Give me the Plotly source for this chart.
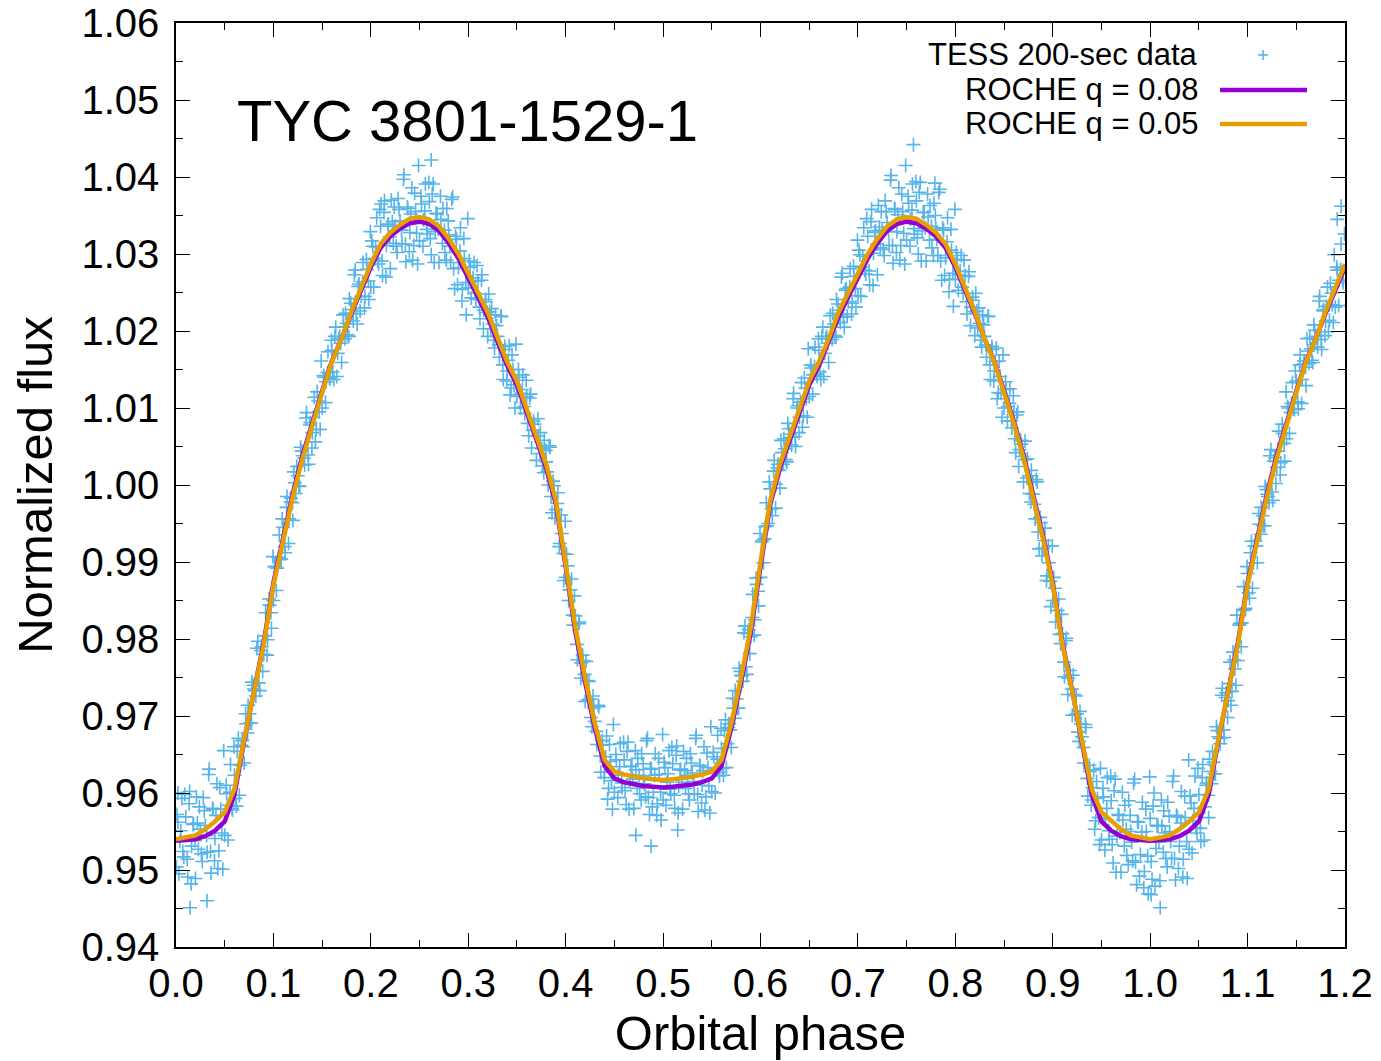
import plotly.graph_objects as go

# ---------------- model curves (phase grid) ----------------
model_phase = [
    0.00, 0.01, 0.02, 0.03, 0.04, 0.05, 0.06, 0.07, 0.08, 0.09,
    0.10, 0.11, 0.12, 0.13, 0.14, 0.15, 0.16, 0.17, 0.18, 0.19,
    0.20, 0.21, 0.22, 0.23, 0.24, 0.25, 0.26, 0.27, 0.28, 0.29,
    0.30, 0.31, 0.32, 0.33, 0.34, 0.35, 0.36, 0.37, 0.38, 0.39,
    0.40, 0.41, 0.42, 0.43, 0.44, 0.45, 0.46, 0.47, 0.48, 0.49,
    0.50, 0.51, 0.52, 0.53, 0.54, 0.55, 0.56, 0.57, 0.58, 0.59,
    0.60, 0.61, 0.62, 0.63, 0.64, 0.65, 0.66, 0.67, 0.68, 0.69,
    0.70, 0.71, 0.72, 0.73, 0.74, 0.75, 0.76, 0.77, 0.78, 0.79,
    0.80, 0.81, 0.82, 0.83, 0.84, 0.85, 0.86, 0.87, 0.88, 0.89,
    0.90, 0.91, 0.92, 0.93, 0.94, 0.95, 0.96, 0.97, 0.98, 0.99,
    1.00, 1.01, 1.02, 1.03, 1.04, 1.05, 1.06, 1.07, 1.08, 1.09,
    1.10, 1.11, 1.12, 1.13, 1.14, 1.15, 1.16, 1.17, 1.18, 1.19,
    1.20,
]

roche_q008 = [
    0.9538, 0.9539, 0.9540, 0.9544, 0.9551, 0.9563, 0.9598, 0.9668, 0.9733, 0.9795,
    0.9873, 0.9934, 0.9989, 1.0039, 1.0083, 1.0122, 1.0161, 1.0190, 1.0223, 1.0254,
    1.0283, 1.0308, 1.0323, 1.0333, 1.0340, 1.0342, 1.0339, 1.0330, 1.0314, 1.0294,
    1.0270, 1.0244, 1.0218, 1.0185, 1.0155, 1.0130, 1.0096, 1.0059, 1.0022, 0.9975,
    0.9894, 0.9809, 0.9744, 0.9684, 0.9635, 0.9619, 0.9614, 0.9611, 0.9609, 0.9608,
    0.9607, 0.9608, 0.9609, 0.9611, 0.9614, 0.9619, 0.9635, 0.9684, 0.9744, 0.9809,
    0.9894, 0.9975, 1.0022, 1.0059, 1.0096, 1.0130, 1.0155, 1.0185, 1.0218, 1.0244,
    1.0270, 1.0294, 1.0314, 1.0330, 1.0339, 1.0342, 1.0340, 1.0333, 1.0323, 1.0308,
    1.0283, 1.0254, 1.0223, 1.0190, 1.0161, 1.0122, 1.0083, 1.0039, 0.9989, 0.9934,
    0.9873, 0.9795, 0.9733, 0.9668, 0.9598, 0.9563, 0.9551, 0.9544, 0.9540, 0.9539,
    0.9538, 0.9539, 0.9540, 0.9544, 0.9551, 0.9563, 0.9598, 0.9668, 0.9733, 0.9795,
    0.9873, 0.9934, 0.9989, 1.0039, 1.0083, 1.0122, 1.0161, 1.0190, 1.0223, 1.0254,
    1.0283,
]

roche_q005 = [
    0.9540, 0.9542, 0.9545, 0.9553, 0.9563, 0.9575, 0.9605, 0.9670, 0.9732, 0.9792,
    0.9870, 0.9930, 0.9985, 1.0035, 1.0080, 1.0120, 1.0160, 1.0190, 1.0225, 1.0257,
    1.0287, 1.0313, 1.0328, 1.0338, 1.0346, 1.0348, 1.0345, 1.0336, 1.0320, 1.0300,
    1.0276, 1.0250, 1.0224, 1.0190, 1.0160, 1.0135, 1.0100, 1.0063, 1.0027, 0.9980,
    0.9900, 0.9815, 0.9750, 0.9690, 0.9643, 0.9628, 0.9624, 0.9621, 0.9619, 0.9618,
    0.9617, 0.9618, 0.9619, 0.9621, 0.9624, 0.9628, 0.9643, 0.9690, 0.9750, 0.9815,
    0.9900, 0.9980, 1.0027, 1.0063, 1.0100, 1.0135, 1.0160, 1.0190, 1.0224, 1.0250,
    1.0276, 1.0300, 1.0320, 1.0336, 1.0345, 1.0348, 1.0346, 1.0338, 1.0328, 1.0313,
    1.0287, 1.0257, 1.0225, 1.0190, 1.0160, 1.0120, 1.0080, 1.0035, 0.9985, 0.9930,
    0.9870, 0.9792, 0.9732, 0.9670, 0.9605, 0.9575, 0.9563, 0.9553, 0.9545, 0.9542,
    0.9540, 0.9542, 0.9545, 0.9553, 0.9563, 0.9575, 0.9605, 0.9670, 0.9732, 0.9792,
    0.9870, 0.9930, 0.9985, 1.0035, 1.0080, 1.0120, 1.0160, 1.0190, 1.0225, 1.0257,
    1.0287,
]

# ---------------- TESS 200-sec data ----------------
tess_phase_a = [
    0.001, 0.003, 0.005, 0.007, 0.009,
    0.0115, 0.0135, 0.0155, 0.0175, 0.0195,
    0.021, 0.023, 0.025, 0.027, 0.029,
    0.0315, 0.0335, 0.0355, 0.0375, 0.0395,
    0.041, 0.043, 0.045, 0.047, 0.049,
    0.0515, 0.0535, 0.0555, 0.0575, 0.0595,
    0.061, 0.063, 0.065, 0.067, 0.069,
    0.0715, 0.0735, 0.0755, 0.0775, 0.0795,
    0.081, 0.083, 0.085, 0.087, 0.089,
    0.0915, 0.0935, 0.0955, 0.0975, 0.0995,
    0.101, 0.103, 0.105, 0.107, 0.109,
    0.1115, 0.1135, 0.1155, 0.1175, 0.1195,
    0.121, 0.123, 0.125, 0.127, 0.129,
    0.1315, 0.1335, 0.1355, 0.1375, 0.1395,
    0.141, 0.143, 0.145, 0.147, 0.149,
    0.1515, 0.1535, 0.1555, 0.1575, 0.1595,
    0.161, 0.163, 0.165, 0.167, 0.169,
    0.1715, 0.1735, 0.1755, 0.1775, 0.1795,
    0.181, 0.183, 0.185, 0.187, 0.189,
    0.1915, 0.1935, 0.1955, 0.1975, 0.1995,
    0.201, 0.203, 0.205, 0.207, 0.209,
    0.2115, 0.2135, 0.2155, 0.2175, 0.2195,
    0.221, 0.223, 0.225, 0.227, 0.229,
    0.2315, 0.2335, 0.2355, 0.2375, 0.2395,
    0.241, 0.243, 0.245, 0.247, 0.249,
    0.2515, 0.2535, 0.2555, 0.2575, 0.2595,
    0.261, 0.263, 0.265, 0.267, 0.269,
    0.2715, 0.2735, 0.2755, 0.2775, 0.2795,
    0.281, 0.283, 0.285, 0.287, 0.289,
    0.2915, 0.2935, 0.2955, 0.2975, 0.2995,
    0.301, 0.303, 0.305, 0.307, 0.309,
    0.3115, 0.3135, 0.3155, 0.3175, 0.3195,
    0.321, 0.323, 0.325, 0.327, 0.329,
    0.3315, 0.3335, 0.3355, 0.3375, 0.3395,
    0.341, 0.343, 0.345, 0.347, 0.349,
    0.3515, 0.3535, 0.3555, 0.3575, 0.3595,
    0.361, 0.363, 0.365, 0.367, 0.369,
    0.3715, 0.3735, 0.3755, 0.3775, 0.3795,
    0.381, 0.383, 0.385, 0.387, 0.389,
    0.3915, 0.3935, 0.3955, 0.3975, 0.3995,
    0.401, 0.403, 0.405, 0.407, 0.409,
    0.4115, 0.4135, 0.4155, 0.4175, 0.4195,
    0.421, 0.423, 0.425, 0.427, 0.429,
    0.4315, 0.4335, 0.4355, 0.4375, 0.4395,
    0.441, 0.443, 0.445, 0.447, 0.449,
    0.4515, 0.4535, 0.4555, 0.4575, 0.4595,
    0.461, 0.463, 0.465, 0.467, 0.469,
    0.4715, 0.4735, 0.4755, 0.4775, 0.4795,
    0.481, 0.483, 0.485, 0.487, 0.489,
    0.4915, 0.4935, 0.4955, 0.4975, 0.4995,
    0.501, 0.503, 0.505, 0.507, 0.509,
    0.5115, 0.5135, 0.5155, 0.5175, 0.5195,
    0.521, 0.523, 0.525, 0.527, 0.529,
    0.5315, 0.5335, 0.5355, 0.5375, 0.5395,
    0.541, 0.543, 0.545, 0.547, 0.549,
    0.5515, 0.5535, 0.5555, 0.5575, 0.5595,
    0.561, 0.563, 0.565, 0.567, 0.569,
    0.5715, 0.5735, 0.5755, 0.5775, 0.5795,
    0.581, 0.583, 0.585, 0.587, 0.589,
    0.5915, 0.5935, 0.5955, 0.5975, 0.5995,
    0.601, 0.603, 0.605, 0.607, 0.609,
    0.6115, 0.6135, 0.6155, 0.6175, 0.6195,
    0.621, 0.623, 0.625, 0.627, 0.629,
    0.6315, 0.6335, 0.6355, 0.6375, 0.6395,
    0.641, 0.643, 0.645, 0.647, 0.649,
    0.6515, 0.6535, 0.6555, 0.6575, 0.6595,
    0.661, 0.663, 0.665, 0.667, 0.669,
    0.6715, 0.6735, 0.6755, 0.6775, 0.6795,
    0.681, 0.683, 0.685, 0.687, 0.689,
    0.6915, 0.6935, 0.6955, 0.6975, 0.6995,
    0.701, 0.703, 0.705, 0.707, 0.709,
    0.7115, 0.7135, 0.7155, 0.7175, 0.7195,
    0.721, 0.723, 0.725, 0.727, 0.729,
    0.7315, 0.7335, 0.7355, 0.7375, 0.7395,
    0.741, 0.743, 0.745, 0.747, 0.749,
    0.7515, 0.7535, 0.7555, 0.7575, 0.7595,
    0.761, 0.763, 0.765, 0.767, 0.769,
    0.7715, 0.7735, 0.7755, 0.7775, 0.7795,
    0.781, 0.783, 0.785, 0.787, 0.789,
    0.7915, 0.7935, 0.7955, 0.7975, 0.7995,
    0.801, 0.803, 0.805, 0.807, 0.809,
    0.8115, 0.8135, 0.8155, 0.8175, 0.8195,
    0.821, 0.823, 0.825, 0.827, 0.829,
    0.8315, 0.8335, 0.8355, 0.8375, 0.8395,
    0.841, 0.843, 0.845, 0.847, 0.849,
    0.8515, 0.8535, 0.8555, 0.8575, 0.8595,
    0.861, 0.863, 0.865, 0.867, 0.869,
    0.8715, 0.8735, 0.8755, 0.8775, 0.8795,
    0.881, 0.883, 0.885, 0.887, 0.889,
    0.8915, 0.8935, 0.8955, 0.8975, 0.8995,
    0.901, 0.903, 0.905, 0.907, 0.909,
    0.9115, 0.9135, 0.9155, 0.9175, 0.9195,
    0.921, 0.923, 0.925, 0.927, 0.929,
    0.9315, 0.9335, 0.9355, 0.9375, 0.9395,
    0.941, 0.943, 0.945, 0.947, 0.949,
    0.9515, 0.9535, 0.9555, 0.9575, 0.9595,
    0.961, 0.963, 0.965, 0.967, 0.969,
    0.9715, 0.9735, 0.9755, 0.9775, 0.9795,
    0.981, 0.983, 0.985, 0.987, 0.989,
    0.9915, 0.9935, 0.9955, 0.9975, 0.9995,
    1.001, 1.003, 1.005, 1.007, 1.009,
    1.0115, 1.0135, 1.0155, 1.0175, 1.0195,
    1.021, 1.023, 1.025, 1.027, 1.029,
    1.0315, 1.0335, 1.0355, 1.0375, 1.0395,
    1.041, 1.043, 1.045, 1.047, 1.049,
    1.0515, 1.0535, 1.0555, 1.0575, 1.0595,
    1.061, 1.063, 1.065, 1.067, 1.069,
    1.0715, 1.0735, 1.0755, 1.0775, 1.0795,
    1.081, 1.083, 1.085, 1.087, 1.089,
    1.0915, 1.0935, 1.0955, 1.0975, 1.0995,
    1.101, 1.103, 1.105, 1.107, 1.109,
    1.1115, 1.1135, 1.1155, 1.1175, 1.1195,
    1.121, 1.123, 1.125, 1.127, 1.129,
    1.1315, 1.1335, 1.1355, 1.1375, 1.1395,
    1.141, 1.143, 1.145, 1.147, 1.149,
    1.1515, 1.1535, 1.1555, 1.1575, 1.1595,
    1.161, 1.163, 1.165, 1.167, 1.169,
    1.1715, 1.1735, 1.1755, 1.1775, 1.1795,
    1.181, 1.183, 1.185, 1.187, 1.189,
    1.1915, 1.1935, 1.1955, 1.1975, 1.1995,
]

tess_flux_a = [
    0.9572, 0.9495, 0.9551, 0.9524, 0.9598,
    0.9514, 0.9586, 0.9482, 0.9559, 0.9538,
    0.9595, 0.9527, 0.9553, 0.9511, 0.9577,
    0.9545, 0.9624, 0.9524, 0.9580, 0.9512,
    0.9571, 0.9502, 0.9607, 0.9548, 0.9655,
    0.9610, 0.9539, 0.9601, 0.9580, 0.9660,
    0.9593, 0.9654, 0.9597, 0.9662, 0.9660,
    0.9703, 0.9678, 0.9703, 0.9691, 0.9740,
    0.9733, 0.9788, 0.9743, 0.9785, 0.9758,
    0.9804, 0.9779, 0.9852, 0.9834, 0.9907,
    0.9894, 0.9863, 0.9906, 0.9903, 0.9956,
    0.9920, 0.9971, 0.9924, 0.9978, 0.9977,
    1.0017, 0.9989, 1.0012, 0.9998, 1.0044,
    1.0035, 1.0087, 1.0039, 1.0078, 1.0048,
    1.0088, 1.0056, 1.0121, 1.0095, 1.0161,
    1.0142, 1.0107, 1.0146, 1.0139, 1.0188,
    1.0147, 1.0193, 1.0141, 1.0190, 1.0184,
    1.0221, 1.0190, 1.0210, 1.0193, 1.0236,
    1.0223, 1.0273, 1.0222, 1.0258, 1.0226,
    1.0264, 1.0230, 1.0293, 1.0265, 1.0329,
    1.0317, 1.0257, 1.0309, 1.0291, 1.0358,
    1.0291, 1.0354, 1.0270, 1.0338, 1.0322,
    1.0370, 1.0314, 1.0336, 1.0302, 1.0358,
    1.0331, 1.0397, 1.0313, 1.0361, 1.0303,
    1.0352, 1.0292, 1.0379, 1.0327, 1.0415,
    1.0375, 1.0310, 1.0356, 1.0332, 1.0393,
    1.0320, 1.0378, 1.0289, 1.0353, 1.0332,
    1.0375, 1.0314, 1.0331, 1.0292, 1.0343,
    1.0310, 1.0371, 1.0281, 1.0323, 1.0260,
    1.0304, 1.0239, 1.0320, 1.0263, 1.0346,
    1.0291, 1.0243, 1.0269, 1.0249, 1.0285,
    1.0231, 1.0266, 1.0203, 1.0241, 1.0224,
    1.0248, 1.0203, 1.0209, 1.0178, 1.0207,
    1.0182, 1.0219, 1.0156, 1.0180, 1.0135,
    1.0162, 1.0117, 1.0169, 1.0130, 1.0183,
    1.0150, 1.0100, 1.0124, 1.0102, 1.0136,
    1.0080, 1.0113, 1.0048, 1.0083, 1.0064,
    1.0086, 1.0041, 1.0047, 1.0016, 1.0045,
    1.0017, 1.0051, 0.9985, 1.0005, 0.9957,
    0.9976, 0.9920, 0.9961, 0.9911, 0.9953,
    0.9910, 0.9850, 0.9864, 0.9831, 0.9856,
    0.9793, 0.9820, 0.9749, 0.9779, 0.9754,
    0.9771, 0.9721, 0.9722, 0.9686, 0.9710,
    0.9680, 0.9714, 0.9648, 0.9668, 0.9620,
    0.9647, 0.9592, 0.9663, 0.9616, 0.9689,
    0.9650, 0.9594, 0.9634, 0.9613, 0.9666,
    0.9603, 0.9654, 0.9579, 0.9634, 0.9618,
    0.9655, 0.9606, 0.9623, 0.9591, 0.9638,
    0.9612, 0.9668, 0.9594, 0.9632, 0.9582,
    0.9623, 0.9571, 0.9645, 0.9601, 0.9676,
    0.9640, 0.9584, 0.9625, 0.9605, 0.9659,
    0.9597, 0.9649, 0.9574, 0.9630, 0.9614,
    0.9654, 0.9606, 0.9623, 0.9591, 0.9639,
    0.9615, 0.9671, 0.9598, 0.9636, 0.9587,
    0.9629, 0.9578, 0.9652, 0.9609, 0.9686,
    0.9653, 0.9600, 0.9644, 0.9627, 0.9684,
    0.9632, 0.9681, 0.9633, 0.9685, 0.9682,
    0.9723, 0.9697, 0.9722, 0.9710, 0.9758,
    0.9752, 0.9808, 0.9764, 0.9807, 0.9781,
    0.9828, 0.9805, 0.9879, 0.9862, 0.9937,
    0.9926, 0.9899, 0.9946, 0.9947, 1.0004,
    0.9969, 1.0018, 0.9970, 1.0022, 1.0019,
    1.0058, 1.0027, 1.0047, 1.0030, 1.0073,
    1.0062, 1.0112, 1.0063, 1.0100, 1.0068,
    1.0108, 1.0075, 1.0139, 1.0112, 1.0177,
    1.0156, 1.0118, 1.0154, 1.0144, 1.0190,
    1.0147, 1.0193, 1.0141, 1.0190, 1.0184,
    1.0220, 1.0189, 1.0209, 1.0192, 1.0235,
    1.0222, 1.0270, 1.0218, 1.0253, 1.0219,
    1.0257, 1.0222, 1.0284, 1.0255, 1.0318,
    1.0305, 1.0245, 1.0297, 1.0279, 1.0346,
    1.0278, 1.0342, 1.0259, 1.0328, 1.0313,
    1.0363, 1.0308, 1.0331, 1.0298, 1.0355,
    1.0329, 1.0396, 1.0311, 1.0359, 1.0302,
    1.0351, 1.0292, 1.0378, 1.0327, 1.0415,
    1.0375, 1.0310, 1.0357, 1.0333, 1.0394,
    1.0321, 1.0380, 1.0291, 1.0354, 1.0334,
    1.0378, 1.0318, 1.0336, 1.0298, 1.0350,
    1.0319, 1.0380, 1.0291, 1.0334, 1.0272,
    1.0316, 1.0251, 1.0332, 1.0275, 1.0358,
    1.0302, 1.0253, 1.0278, 1.0257, 1.0292,
    1.0238, 1.0271, 1.0207, 1.0244, 1.0225,
    1.0249, 1.0204, 1.0210, 1.0179, 1.0208,
    1.0182, 1.0219, 1.0156, 1.0180, 1.0135,
    1.0160, 1.0112, 1.0161, 1.0119, 1.0169,
    1.0134, 1.0083, 1.0106, 1.0083, 1.0116,
    1.0060, 1.0091, 1.0024, 1.0058, 1.0037,
    1.0057, 1.0009, 1.0012, 0.9978, 1.0004,
    0.9975, 1.0007, 0.9939, 0.9958, 0.9908,
    0.9928, 0.9876, 0.9921, 0.9875, 0.9921,
    0.9880, 0.9822, 0.9837, 0.9806, 0.9832,
    0.9770, 0.9798, 0.9728, 0.9759, 0.9735,
    0.9753, 0.9702, 0.9703, 0.9667, 0.9690,
    0.9659, 0.9689, 0.9619, 0.9636, 0.9584,
    0.9607, 0.9553, 0.9615, 0.9568, 0.9632,
    0.9606, 0.9526, 0.9580, 0.9551, 0.9622,
    0.9533, 0.9603, 0.9497, 0.9572, 0.9549,
    0.9601, 0.9531, 0.9553, 0.9507, 0.9571,
    0.9536, 0.9613, 0.9510, 0.9563, 0.9492,
    0.9549, 0.9477, 0.9579, 0.9518, 0.9621,
    0.9511, 0.9583, 0.9479, 0.9557, 0.9536,
    0.9591, 0.9523, 0.9548, 0.9504, 0.9570,
    0.9537, 0.9615, 0.9515, 0.9571, 0.9502,
    0.9561, 0.9491, 0.9596, 0.9537, 0.9643,
    0.9596, 0.9522, 0.9580, 0.9555, 0.9632,
    0.9554, 0.9620, 0.9539, 0.9610, 0.9597,
    0.9644, 0.9612, 0.9640, 0.9625, 0.9681,
    0.9671, 0.9727, 0.9682, 0.9724, 0.9698,
    0.9742, 0.9714, 0.9783, 0.9761, 0.9831,
    0.9818, 0.9790, 0.9837, 0.9838, 0.9894,
    0.9860, 0.9912, 0.9866, 0.9921, 0.9921,
    0.9963, 0.9936, 0.9960, 0.9947, 0.9994,
    0.9985, 1.0038, 0.9991, 1.0031, 1.0002,
    1.0044, 1.0013, 1.0079, 1.0054, 1.0121,
    1.0102, 1.0067, 1.0106, 1.0099, 1.0148,
    1.0108, 1.0156, 1.0106, 1.0157, 1.0153,
    1.0190, 1.0158, 1.0177, 1.0159, 1.0201,
    1.0189, 1.0239, 1.0189, 1.0226, 1.0194,
    1.0232, 1.0199, 1.0262, 1.0234, 1.0299,
    1.0283, 1.0233, 1.0280, 1.0266, 1.0326,
]

tess_phase_b = [
    0.0005, 0.002, 0.004, 0.006, 0.008,
    0.010, 0.012, 0.014, 0.016, 0.018,
    0.020, 0.022, 0.024, 0.026, 0.028,
    0.030, 0.032, 0.034, 0.036, 0.038,
    0.040, 0.042, 0.044, 0.046, 0.048,
    0.050, 0.052, 0.054, 0.056, 0.058,
    0.060, 0.062, 0.064, 0.066, 0.068,
    0.070, 0.072, 0.074, 0.076, 0.078,
    0.080, 0.082, 0.084, 0.086, 0.088,
    0.090, 0.092, 0.094, 0.096, 0.098,
    0.100, 0.102, 0.104, 0.106, 0.108,
    0.110, 0.112, 0.114, 0.116, 0.118,
    0.120, 0.122, 0.124, 0.126, 0.128,
    0.130, 0.132, 0.134, 0.136, 0.138,
    0.140, 0.142, 0.144, 0.146, 0.148,
    0.150, 0.152, 0.154, 0.156, 0.158,
    0.160, 0.162, 0.164, 0.166, 0.168,
    0.170, 0.172, 0.174, 0.176, 0.178,
    0.180, 0.182, 0.184, 0.186, 0.188,
    0.190, 0.192, 0.194, 0.196, 0.198,
    0.200, 0.202, 0.204, 0.206, 0.208,
    0.210, 0.212, 0.214, 0.216, 0.218,
    0.220, 0.222, 0.224, 0.226, 0.228,
    0.230, 0.232, 0.234, 0.236, 0.238,
    0.240, 0.242, 0.244, 0.246, 0.248,
    0.250, 0.252, 0.254, 0.256, 0.258,
    0.260, 0.262, 0.264, 0.266, 0.268,
    0.270, 0.272, 0.274, 0.276, 0.278,
    0.280, 0.282, 0.284, 0.286, 0.288,
    0.290, 0.292, 0.294, 0.296, 0.298,
    0.300, 0.302, 0.304, 0.306, 0.308,
    0.310, 0.312, 0.314, 0.316, 0.318,
    0.320, 0.322, 0.324, 0.326, 0.328,
    0.330, 0.332, 0.334, 0.336, 0.338,
    0.340, 0.342, 0.344, 0.346, 0.348,
    0.350, 0.352, 0.354, 0.356, 0.358,
    0.360, 0.362, 0.364, 0.366, 0.368,
    0.370, 0.372, 0.374, 0.376, 0.378,
    0.380, 0.382, 0.384, 0.386, 0.388,
    0.390, 0.392, 0.394, 0.396, 0.398,
    0.400, 0.402, 0.404, 0.406, 0.408,
    0.410, 0.412, 0.414, 0.416, 0.418,
    0.420, 0.422, 0.424, 0.426, 0.428,
    0.430, 0.432, 0.434, 0.436, 0.438,
    0.440, 0.442, 0.444, 0.446, 0.448,
    0.450, 0.452, 0.454, 0.456, 0.458,
    0.460, 0.462, 0.464, 0.466, 0.468,
    0.470, 0.472, 0.474, 0.476, 0.478,
    0.480, 0.482, 0.484, 0.486, 0.488,
    0.490, 0.492, 0.494, 0.496, 0.498,
    0.500, 0.502, 0.504, 0.506, 0.508,
    0.510, 0.512, 0.514, 0.516, 0.518,
    0.520, 0.522, 0.524, 0.526, 0.528,
    0.530, 0.532, 0.534, 0.536, 0.538,
    0.540, 0.542, 0.544, 0.546, 0.548,
    0.550, 0.552, 0.554, 0.556, 0.558,
    0.560, 0.562, 0.564, 0.566, 0.568,
    0.570, 0.572, 0.574, 0.576, 0.578,
    0.580, 0.582, 0.584, 0.586, 0.588,
    0.590, 0.592, 0.594, 0.596, 0.598,
    0.600, 0.602, 0.604, 0.606, 0.608,
    0.610, 0.612, 0.614, 0.616, 0.618,
    0.620, 0.622, 0.624, 0.626, 0.628,
    0.630, 0.632, 0.634, 0.636, 0.638,
    0.640, 0.642, 0.644, 0.646, 0.648,
    0.650, 0.652, 0.654, 0.656, 0.658,
    0.660, 0.662, 0.664, 0.666, 0.668,
    0.670, 0.672, 0.674, 0.676, 0.678,
    0.680, 0.682, 0.684, 0.686, 0.688,
    0.690, 0.692, 0.694, 0.696, 0.698,
    0.700, 0.702, 0.704, 0.706, 0.708,
    0.710, 0.712, 0.714, 0.716, 0.718,
    0.720, 0.722, 0.724, 0.726, 0.728,
    0.730, 0.732, 0.734, 0.736, 0.738,
    0.740, 0.742, 0.744, 0.746, 0.748,
    0.750, 0.752, 0.754, 0.756, 0.758,
    0.760, 0.762, 0.764, 0.766, 0.768,
    0.770, 0.772, 0.774, 0.776, 0.778,
    0.780, 0.782, 0.784, 0.786, 0.788,
    0.790, 0.792, 0.794, 0.796, 0.798,
    0.800, 0.802, 0.804, 0.806, 0.808,
    0.810, 0.812, 0.814, 0.816, 0.818,
    0.820, 0.822, 0.824, 0.826, 0.828,
    0.830, 0.832, 0.834, 0.836, 0.838,
    0.840, 0.842, 0.844, 0.846, 0.848,
    0.850, 0.852, 0.854, 0.856, 0.858,
    0.860, 0.862, 0.864, 0.866, 0.868,
    0.870, 0.872, 0.874, 0.876, 0.878,
    0.880, 0.882, 0.884, 0.886, 0.888,
    0.890, 0.892, 0.894, 0.896, 0.898,
    0.900, 0.902, 0.904, 0.906, 0.908,
    0.910, 0.912, 0.914, 0.916, 0.918,
    0.920, 0.922, 0.924, 0.926, 0.928,
    0.930, 0.932, 0.934, 0.936, 0.938,
    0.940, 0.942, 0.944, 0.946, 0.948,
    0.950, 0.952, 0.954, 0.956, 0.958,
    0.960, 0.962, 0.964, 0.966, 0.968,
    0.970, 0.972, 0.974, 0.976, 0.978,
    0.980, 0.982, 0.984, 0.986, 0.988,
    0.990, 0.992, 0.994, 0.996, 0.998,
    1.000, 1.002, 1.004, 1.006, 1.008,
    1.010, 1.012, 1.014, 1.016, 1.018,
    1.020, 1.022, 1.024, 1.026, 1.028,
    1.030, 1.032, 1.034, 1.036, 1.038,
    1.040, 1.042, 1.044, 1.046, 1.048,
    1.050, 1.052, 1.054, 1.056, 1.058,
    1.060, 1.062, 1.064, 1.066, 1.068,
    1.070, 1.072, 1.074, 1.076, 1.078,
    1.080, 1.082, 1.084, 1.086, 1.088,
    1.090, 1.092, 1.094, 1.096, 1.098,
    1.100, 1.102, 1.104, 1.106, 1.108,
    1.110, 1.112, 1.114, 1.116, 1.118,
    1.120, 1.122, 1.124, 1.126, 1.128,
    1.130, 1.132, 1.134, 1.136, 1.138,
    1.140, 1.142, 1.144, 1.146, 1.148,
    1.150, 1.152, 1.154, 1.156, 1.158,
    1.160, 1.162, 1.164, 1.166, 1.168,
    1.170, 1.172, 1.174, 1.176, 1.178,
    1.180, 1.182, 1.184, 1.186, 1.188,
    1.190, 1.192, 1.194, 1.196, 1.198,
]

tess_flux_b = [
    0.9504, 0.9562, 0.9537, 0.9593, 0.9517,
    0.9569, 0.9491, 0.9602, 0.9531, 0.9560,
    0.9489, 0.9561, 0.9582, 0.9521, 0.9594,
    0.9558, 0.9523, 0.9631, 0.9496, 0.9579,
    0.9541, 0.9612, 0.9525, 0.9579, 0.9501,
    0.9545, 0.9599, 0.9584, 0.9637, 0.9578,
    0.9623, 0.9583, 0.9671, 0.9636, 0.9668,
    0.9639, 0.9690, 0.9714, 0.9691, 0.9744,
    0.9735, 0.9726, 0.9797, 0.9733, 0.9790,
    0.9780, 0.9834, 0.9799, 0.9844, 0.9814,
    0.9850, 0.9894, 0.9892, 0.9935, 0.9904,
    0.9945, 0.9912, 0.9985, 0.9956, 0.9983,
    0.9954, 1.0003, 1.0024, 0.9999, 1.0049,
    1.0038, 1.0026, 1.0094, 1.0027, 1.0081,
    1.0068, 1.0114, 1.0072, 1.0109, 1.0072,
    1.0100, 1.0140, 1.0134, 1.0173, 1.0138,
    1.0175, 1.0137, 1.0205, 1.0171, 1.0193,
    1.0159, 1.0205, 1.0223, 1.0195, 1.0242,
    1.0228, 1.0213, 1.0279, 1.0209, 1.0261,
    1.0245, 1.0289, 1.0245, 1.0280, 1.0241,
    1.0257, 1.0310, 1.0294, 1.0347, 1.0287,
    1.0336, 1.0272, 1.0369, 1.0311, 1.0339,
    1.0281, 1.0342, 1.0361, 1.0310, 1.0372,
    1.0343, 1.0313, 1.0403, 1.0290, 1.0359,
    1.0328, 1.0386, 1.0311, 1.0355, 1.0287,
    1.0317, 1.0365, 1.0344, 1.0391, 1.0326,
    1.0368, 1.0299, 1.0391, 1.0329, 1.0352,
    1.0289, 1.0345, 1.0359, 1.0302, 1.0359,
    1.0325, 1.0289, 1.0374, 1.0255, 1.0319,
    1.0282, 1.0334, 1.0254, 1.0294, 1.0221,
    1.0256, 1.0283, 1.0264, 1.0289, 1.0241,
    1.0265, 1.0216, 1.0273, 1.0227, 1.0238,
    1.0193, 1.0225, 1.0229, 1.0188, 1.0221,
    1.0193, 1.0166, 1.0219, 1.0137, 1.0176,
    1.0148, 1.0181, 1.0126, 1.0150, 1.0100,
    1.0115, 1.0140, 1.0119, 1.0143, 1.0093,
    1.0115, 1.0064, 1.0118, 1.0071, 1.0079,
    1.0032, 1.0064, 1.0068, 1.0025, 1.0058,
    1.0030, 1.0000, 1.0049, 0.9964, 0.9999,
    0.9968, 0.9990, 0.9924, 0.9937, 0.9876,
    0.9880, 0.9895, 0.9864, 0.9878, 0.9818,
    0.9830, 0.9773, 0.9822, 0.9769, 0.9772,
    0.9719, 0.9746, 0.9745, 0.9698, 0.9726,
    0.9693, 0.9663, 0.9712, 0.9627, 0.9662,
    0.9627, 0.9674, 0.9606, 0.9641, 0.9579,
    0.9601, 0.9643, 0.9623, 0.9664, 0.9607,
    0.9643, 0.9585, 0.9666, 0.9614, 0.9635,
    0.9580, 0.9630, 0.9645, 0.9599, 0.9651,
    0.9622, 0.9595, 0.9671, 0.9572, 0.9631,
    0.9601, 0.9651, 0.9586, 0.9624, 0.9565,
    0.9591, 0.9633, 0.9614, 0.9655, 0.9599,
    0.9638, 0.9580, 0.9661, 0.9609, 0.9631,
    0.9579, 0.9629, 0.9645, 0.9599, 0.9651,
    0.9626, 0.9599, 0.9675, 0.9576, 0.9635,
    0.9610, 0.9660, 0.9595, 0.9633, 0.9574,
    0.9602, 0.9647, 0.9631, 0.9675, 0.9622,
    0.9658, 0.9623, 0.9695, 0.9664, 0.9690,
    0.9659, 0.9710, 0.9733, 0.9710, 0.9762,
    0.9753, 0.9745, 0.9817, 0.9754, 0.9812,
    0.9803, 0.9858, 0.9825, 0.9871, 0.9843,
    0.9880, 0.9928, 0.9930, 0.9977, 0.9950,
    0.9995, 0.9960, 1.0032, 1.0001, 1.0027,
    0.9996, 1.0042, 1.0060, 1.0033, 1.0080,
    1.0066, 1.0052, 1.0119, 1.0050, 1.0103,
    1.0088, 1.0133, 1.0090, 1.0126, 1.0088,
    1.0115, 1.0152, 1.0143, 1.0179, 1.0141,
    1.0175, 1.0137, 1.0205, 1.0171, 1.0193,
    1.0159, 1.0205, 1.0223, 1.0194, 1.0241,
    1.0227, 1.0211, 1.0275, 1.0205, 1.0255,
    1.0238, 1.0281, 1.0236, 1.0271, 1.0231,
    1.0246, 1.0299, 1.0283, 1.0334, 1.0274,
    1.0323, 1.0260, 1.0358, 1.0301, 1.0330,
    1.0273, 1.0335, 1.0355, 1.0306, 1.0369,
    1.0341, 1.0311, 1.0402, 1.0288, 1.0358,
    1.0329, 1.0386, 1.0311, 1.0355, 1.0287,
    1.0318, 1.0366, 1.0345, 1.0391, 1.0326,
    1.0369, 1.0300, 1.0393, 1.0330, 1.0354,
    1.0291, 1.0348, 1.0363, 1.0308, 1.0366,
    1.0333, 1.0298, 1.0384, 1.0266, 1.0331,
    1.0295, 1.0347, 1.0267, 1.0305, 1.0232,
    1.0267, 1.0293, 1.0273, 1.0298, 1.0249,
    1.0272, 1.0222, 1.0277, 1.0231, 1.0240,
    1.0194, 1.0226, 1.0230, 1.0188, 1.0221,
    1.0193, 1.0166, 1.0219, 1.0137, 1.0176,
    1.0148, 1.0178, 1.0120, 1.0141, 1.0088,
    1.0100, 1.0124, 1.0102, 1.0125, 1.0074,
    1.0095, 1.0042, 1.0095, 1.0046, 1.0053,
    1.0004, 1.0033, 1.0034, 0.9989, 1.0019,
    0.9988, 0.9956, 1.0004, 0.9917, 0.9951,
    0.9918, 0.9944, 0.9882, 0.9899, 0.9842,
    0.9850, 0.9866, 0.9837, 0.9852, 0.9794,
    0.9807, 0.9751, 0.9801, 0.9749, 0.9753,
    0.9701, 0.9728, 0.9726, 0.9679, 0.9706,
    0.9673, 0.9639, 0.9685, 0.9596, 0.9628,
    0.9591, 0.9630, 0.9564, 0.9593, 0.9533,
    0.9539, 0.9595, 0.9566, 0.9620, 0.9540,
    0.9590, 0.9509, 0.9618, 0.9544, 0.9571,
    0.9497, 0.9565, 0.9584, 0.9519, 0.9590,
    0.9550, 0.9512, 0.9618, 0.9481, 0.9562,
    0.9520, 0.9588, 0.9498, 0.9550, 0.9469,
    0.9567, 0.9488, 0.9600, 0.9528, 0.9558,
    0.9486, 0.9557, 0.9577, 0.9515, 0.9588,
    0.9550, 0.9515, 0.9622, 0.9487, 0.9569,
    0.9531, 0.9602, 0.9514, 0.9568, 0.9489,
    0.9527, 0.9587, 0.9564, 0.9622, 0.9548,
    0.9598, 0.9537, 0.9637, 0.9582, 0.9613,
    0.9568, 0.9628, 0.9654, 0.9625, 0.9686,
    0.9673, 0.9664, 0.9736, 0.9672, 0.9730,
    0.9720, 0.9770, 0.9732, 0.9773, 0.9740,
    0.9772, 0.9820, 0.9821, 0.9868, 0.9840,
    0.9885, 0.9853, 0.9927, 0.9899, 0.9927,
    0.9899, 0.9949, 0.9971, 0.9947, 0.9998,
    0.9988, 0.9977, 1.0046, 0.9980, 1.0035,
    1.0023, 1.0070, 1.0029, 1.0067, 1.0031,
    1.0060, 1.0100, 1.0094, 1.0133, 1.0098,
    1.0135, 1.0099, 1.0169, 1.0137, 1.0161,
    1.0129, 1.0174, 1.0191, 1.0162, 1.0208,
    1.0193, 1.0179, 1.0245, 1.0176, 1.0228,
    1.0213, 1.0257, 1.0214, 1.0249, 1.0211,
    1.0231, 1.0279, 1.0266, 1.0313, 1.0263,
]

tess_phase_out = [0.262, 0.757, 1.192, 1.196, 0.0144, 0.0318, 0.4877, 0.4720,
                  1.0103, 1.0010, 0.2105, 0.7790, 0.5150, 0.0020]
tess_flux_out = [1.0422, 1.0442, 1.0345, 1.0362, 0.9451, 0.9460, 0.9531, 0.9545,
                 0.9451, 0.9468, 1.0365, 1.0392, 0.9552, 0.9600]

tess_phase = tess_phase_a + tess_phase_b + tess_phase_out
tess_flux = tess_flux_a + tess_flux_b + tess_flux_out

FONT = "Liberation Sans, Arial, Helvetica, sans-serif"
DATA_COLOR = "#56b4e9"
Q08_COLOR = "#9400d3"
Q05_COLOR = "#e69f00"

fig = go.Figure()
fig.add_trace(go.Scatter(
    x=tess_phase, y=tess_flux, mode="markers", name="TESS 200-sec data",
    marker=dict(symbol="cross-thin", size=10, color=DATA_COLOR,
                line=dict(width=1.6, color=DATA_COLOR)),
))
fig.add_trace(go.Scatter(
    x=model_phase, y=roche_q008, mode="lines", name="ROCHE q = 0.08",
    line=dict(color=Q08_COLOR, width=4.5),
))
fig.add_trace(go.Scatter(
    x=model_phase, y=roche_q005, mode="lines", name="ROCHE q = 0.05",
    line=dict(color=Q05_COLOR, width=4.5),
))

axis_common = dict(
    showline=True, linecolor="black", linewidth=1.5, mirror="ticks",
    ticks="inside", ticklen=14, tickwidth=1.3, tickcolor="black",
    showgrid=False, zeroline=False, ticklabeloverflow="allow",
    tickfont=dict(family=FONT, size=40, color="black"),
    title_font=dict(family=FONT, size=49, color="black"),
)

fig.update_xaxes(
    range=[0, 1.2], dtick=0.1, tick0=0, tickformat=".1f",
    minor=dict(dtick=0.05, tick0=0, ticks="inside", ticklen=7, tickcolor="black", tickwidth=1.3),
    title_text="Orbital phase", title_standoff=12, ticklabelstandoff=0,
    **axis_common,
)
fig.update_yaxes(
    range=[0.94, 1.06], dtick=0.01, tick0=0.94, tickformat=".2f",
    minor=dict(dtick=0.005, tick0=0.94, ticks="inside", ticklen=7, tickcolor="black", tickwidth=1.3),
    title_text="Normalized flux", title_standoff=16, ticklabelstandoff=7,
    **axis_common,
)

# ----- legend drawn gnuplot-style (text right-aligned, sample on the right) -----
legend_rows = [("TESS 200-sec data", 0.9654), ("ROCHE q = 0.08", 0.9275), ("ROCHE q = 0.05", 0.8907)]
for text, yy in legend_rows:
    fig.add_annotation(xref="paper", yref="paper", x=0.876, y=yy, text=text,
                       showarrow=False, xanchor="right", yanchor="middle",
                       font=dict(family=FONT, size=31, color="black"))
fig.add_shape(type="line", xref="paper", yref="paper", x0=0.8931, x1=0.9675,
              y0=0.9275, y1=0.9275, line=dict(color=Q08_COLOR, width=4.5))
fig.add_shape(type="line", xref="paper", yref="paper", x0=0.8931, x1=0.9675,
              y0=0.8907, y1=0.8907, line=dict(color=Q05_COLOR, width=4.5))
fig.add_shape(type="line", xref="paper", yref="paper", x0=0.9256, x1=0.9342,
              y0=0.9654, y1=0.9654, line=dict(color=DATA_COLOR, width=1.6))
fig.add_shape(type="line", xref="paper", yref="paper", x0=0.9299, x1=0.9299,
              y0=0.9600, y1=0.9708, line=dict(color=DATA_COLOR, width=1.6))

fig.add_annotation(xref="paper", yref="paper", x=0.0505, y=0.895, text="TYC 3801-1529-1",
                   showarrow=False, xanchor="left", yanchor="middle",
                   font=dict(family=FONT, size=58, color="black"))

# the page body adds an 8 px offset; size the figure so the plot box lands where the reference has it
fig.update_layout(
    width=1373, height=1053,
    margin=dict(l=168, r=36, t=15, b=114, autoexpand=False),
    paper_bgcolor="white", plot_bgcolor="white",
    showlegend=False,
)

fig.write_html("out.html")
